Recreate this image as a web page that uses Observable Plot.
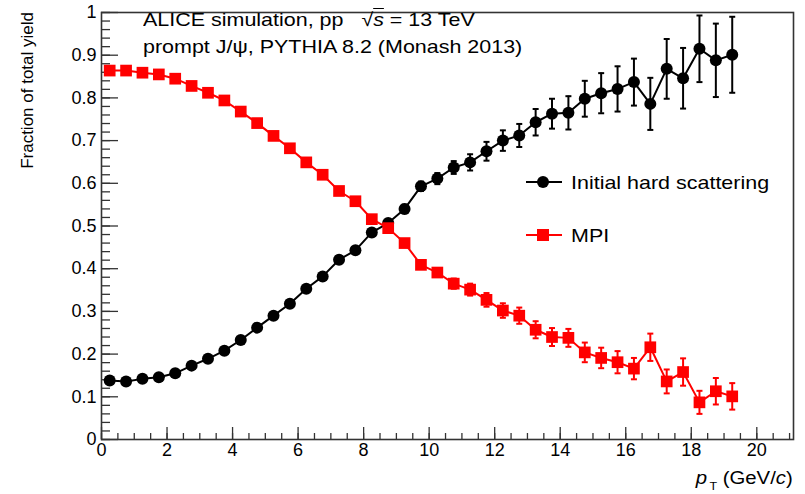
<!DOCTYPE html>
<html><head><meta charset="utf-8">
<script src="https://cdn.jsdelivr.net/npm/d3@7"></script>
<script src="https://cdn.jsdelivr.net/npm/@observablehq/plot@0.6"></script>
<style>
body{margin:0;background:#fff;}
#wrap{position:relative;width:805px;height:494px;font-family:"Liberation Sans",Arial,Helvetica,sans-serif;color:#000;}
.ov{position:absolute;white-space:nowrap;transform-origin:0 0;transform:scaleX(1.13);font-size:19px;line-height:1;}
.sym{position:absolute;}
</style></head><body><div id="wrap"></div>
<script>
// ---- data ----
const pT = [0.25,0.75,1.25,1.75,2.25,2.75,3.25,3.75,4.25,4.75,5.25,5.75,6.25,6.75,7.25,7.75,8.25,8.75,9.25,9.75,
            10.25,10.75,11.25,11.75,12.25,12.75,13.25,13.75,14.25,14.75,15.25,15.75,16.25,16.75,17.25,17.75,18.25,18.75,19.25];
const hardFrac = [0.138,0.136,0.142,0.146,0.155,0.173,0.189,0.208,0.233,0.262,0.290,0.318,0.353,0.382,0.421,0.443,0.485,0.507,0.540,0.593,
                  0.611,0.637,0.649,0.675,0.700,0.712,0.743,0.763,0.765,0.798,0.811,0.821,0.837,0.786,0.868,0.846,0.915,0.888,0.901];
const hardErr  = [0.002,0.002,0.002,0.002,0.002,0.003,0.003,0.003,0.004,0.004,0.005,0.005,0.006,0.006,0.007,0.008,0.008,0.009,0.010,0.011,
                  0.013,0.015,0.019,0.022,0.024,0.027,0.031,0.035,0.039,0.042,0.047,0.053,0.055,0.061,0.070,0.071,0.078,0.086,0.089];
const mpiFrac  = [0.864,0.864,0.859,0.855,0.845,0.828,0.812,0.794,0.768,0.741,0.711,0.682,0.649,0.620,0.582,0.558,0.516,0.495,0.460,0.409,
                  0.391,0.365,0.351,0.327,0.302,0.290,0.257,0.240,0.238,0.204,0.191,0.181,0.166,0.216,0.136,0.158,0.087,0.113,0.101];
const mpiErr   = [0.002,0.002,0.002,0.002,0.002,0.002,0.003,0.003,0.003,0.003,0.004,0.004,0.004,0.005,0.005,0.006,0.006,0.007,0.008,0.009,
                  0.010,0.012,0.014,0.016,0.017,0.019,0.020,0.021,0.021,0.023,0.024,0.026,0.025,0.032,0.028,0.032,0.027,0.031,0.031];
const seriesNames = ["Initial hard scattering", "MPI"];
const xMajorTicks = [0,2,4,6,8,10,12,14,16,18,20];
const yMajorTicks = [0,0.1,0.2,0.3,0.4,0.5,0.6,0.7,0.8,0.9,1];
const yTickLabels = ["0","0.1","0.2","0.3","0.4","0.5","0.6","0.7","0.8","0.9","1"];
const xMinorTicks = d3.range(0, 21.01, 0.5);
const yMinorTicks = d3.range(0, 1.001, 0.02);

const hard = pT.map((x,i)=>({x, y:hardFrac[i], e:hardErr[i]}));
const mpi  = pT.map((x,i)=>({x, y:mpiFrac[i],  e:mpiErr[i]}));

const cap = {draw(ctx){ ctx.moveTo(-3,0); ctx.lineTo(3,0); }};
const axC = "#333";
const font = '"Liberation Sans", Arial, Helvetica, sans-serif';

function series(data, color, symbol, r){
  return [
    Plot.line(data, {x:"x", y:"y", stroke:color, strokeWidth:2}),
    Plot.ruleX(data, {x:"x", y1:d=>d.y-d.e, y2:d=>d.y+d.e, stroke:color, strokeWidth:2}),
    Plot.dot(data, {x:"x", y:d=>d.y+d.e, symbol:cap, stroke:color, strokeWidth:2, fill:"none"}),
    Plot.dot(data, {x:"x", y:d=>d.y-d.e, symbol:cap, stroke:color, strokeWidth:2, fill:"none"}),
    Plot.dot(data, {x:"x", y:"y", symbol, r, fill:color, stroke:"none"})
  ];
}

const chart = Plot.plot({
  width:805, height:494,
  marginLeft:101, marginRight:12, marginTop:12, marginBottom:55,
  style:{fontFamily:font, fontSize:"18px", color:"#000", background:"#fff"},
  x:{domain:[0,21.12]},
  y:{domain:[0,1]},
  marks:[
    Plot.axisX({ticks:xMinorTicks, tickSize:-6, tickFormat:()=>"", label:null, stroke:axC, strokeWidth:1.3}),
    Plot.axisX({ticks:xMajorTicks, tickSize:-12, tickFormat:()=>"", label:null, stroke:axC, strokeWidth:1.3}),
    Plot.axisX({ticks:xMajorTicks, tickSize:0, tickPadding:4, label:null, fontSize:18, fill:"#000"}),
    Plot.axisY({ticks:yMinorTicks, tickSize:-9, tickFormat:()=>"", label:null, stroke:axC, strokeWidth:1.3}),
    Plot.axisY({ticks:yMajorTicks, tickSize:-17, tickFormat:()=>"", label:null, stroke:axC, strokeWidth:1.3}),
    Plot.axisY({ticks:yMajorTicks, tickSize:0, tickPadding:5, tickFormat:(d,i)=>yTickLabels[i], label:null, fontSize:18, fill:"#000"}),
    ...series(hard, "#000", "circle", 6),
    ...series(mpi, "#ff0000", "square", 6.6),
    Plot.frame({stroke:axC, strokeWidth:1.6})
  ]
});

const wrap = document.getElementById("wrap");
wrap.appendChild(chart);

// y-axis title
d3.select(chart).append("text")
  .attr("transform","translate(33,12) rotate(-90)")
  .attr("text-anchor","end")
  .attr("font-size",17)
  .attr("font-family",font)
  .attr("fill","#000")
  .text("Fraction of total yield");

function addDiv(html, style, cls="ov"){
  const d = document.createElement("div");
  d.className = cls; d.innerHTML = html;
  Object.assign(d.style, style);
  wrap.appendChild(d);
  return d;
}
// header text
addDiv('ALICE simulation, pp&nbsp;&nbsp; √<span style="font-style:italic;text-decoration:overline">s</span> = 13 TeV', {left:"143px", top:"10px"});
addDiv('prompt J/ψ, PYTHIA 8.2 (Monash 2013)', {left:"143px", top:"37px"});
// legend
addDiv(seriesNames[0], {left:"571px", top:"172.5px"});
addDiv(seriesNames[1], {left:"571px", top:"225.7px"});
addDiv('<svg width="40" height="20"><line x1="0" y1="10" x2="36" y2="10" stroke="#000" stroke-width="2"/><circle cx="17" cy="10" r="6" fill="#000"/></svg>', {left:"526px", top:"171.7px"}, "sym");
addDiv('<svg width="40" height="20"><line x1="0" y1="10" x2="36" y2="10" stroke="#ff0000" stroke-width="2"/><rect x="11" y="4" width="12" height="12" fill="#ff0000"/></svg>', {left:"526px", top:"225px"}, "sym");
// x-axis title
const xl = addDiv('<span style="font-style:italic">p</span><span style="font-size:11px;position:relative;top:6px;margin:0 5px 0 2px">T</span>(GeV/<span style="font-style:italic">c</span>)',
  {right:"12px", top:"469px", fontSize:"18px", transformOrigin:"100% 0"});
</script></body></html>
